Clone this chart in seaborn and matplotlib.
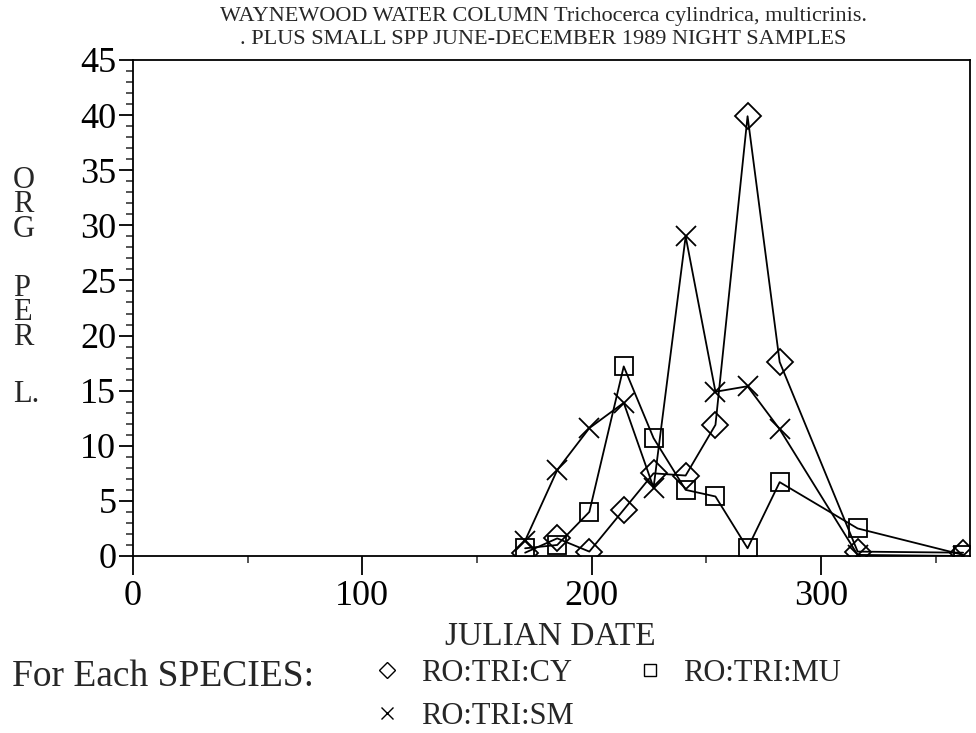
import matplotlib
matplotlib.use("Agg")
import matplotlib.pyplot as plt
from matplotlib.lines import Line2D
from matplotlib.ticker import MultipleLocator
import seaborn as sns
import pandas as pd

# ---- data ----
julian_date = [171, 185, 199, 214, 227, 241, 254, 268, 282, 316, 362]
ro_tri_cy = [0.3, 1.6, 0.4, 4.2, 7.5, 7.3, 11.9, 39.9, 17.6, 0.4, 0.3]
ro_tri_mu = [0.7, 1.0, 4.0, 17.2, 10.7, 6.0, 5.4, 0.7, 6.7, 2.5, 0.1]
ro_tri_sm = [1.4, 7.8, 11.6, 13.9, 6.2, 29.0, 14.9, 15.4, 11.5, 0.1, 0.0]
series_names = ["RO:TRI:CY", "RO:TRI:MU", "RO:TRI:SM"]
x_ticks = [0, 100, 200, 300]
y_ticks = [0, 5, 10, 15, 20, 25, 30, 35, 40, 45]
title_lines = ["WAYNEWOOD WATER COLUMN Trichocerca cylindrica, multicrinis.",
               ". PLUS SMALL SPP JUNE-DECEMBER 1989 NIGHT SAMPLES"]

sns.set_style("ticks")
plt.rcParams["font.family"] = ["Liberation Serif", "DejaVu Serif"]

fig = plt.figure(figsize=(9.76, 7.33), dpi=100)
ax = fig.add_axes([133 / 976, 1 - 556 / 733, (970 - 133) / 976, (556 - 60) / 733])

df = pd.DataFrame({"date": julian_date, "CY": ro_tri_cy, "MU": ro_tri_mu, "SM": ro_tri_sm})
styles = {
    "CY": dict(marker="D", ms=13.5),
    "MU": dict(marker="s", ms=13),
    "SM": dict(marker="x", ms=14),
}
for col, st in styles.items():
    sns.lineplot(data=df, x="date", y=col, ax=ax, color="black", lw=1.3,
                 marker=st["marker"], ms=st["ms"], mfc="none", mec="black",
                 mew=1.3, sort=False, estimator=None)

ax.set_xlim(0, 365)
ax.set_ylim(0, 45)
ax.set_xticks(x_ticks)
ax.xaxis.set_minor_locator(MultipleLocator(50))
ax.set_yticks(y_ticks)
ax.yaxis.set_minor_locator(MultipleLocator(1))
ax.tick_params(axis="both", which="major", direction="out", width=1.3, labelsize=26, colors="black")
ax.tick_params(axis="y", which="major", length=10, pad=2)
ax.tick_params(axis="x", which="major", length=14)
ax.tick_params(axis="both", which="minor", direction="out", width=1.1, length=5)
for s in ax.spines.values():
    s.set_linewidth(1.3)
    s.set_color("black")
ax.set_xlabel("")
ax.set_ylabel("")

fig.text(550 / 976, 1 - 637 / 733, "JULIAN DATE", ha="center", va="center", fontsize=24)

for i, line in enumerate(title_lines):
    fig.text(543 / 976, 1 - (17 + 23 * i) / 733, line, ha="center", va="center", fontsize=16)

# stacked vertical y-axis label, three groups
ylab_groups = [("O\nR\nG", 205), ("P\nE\nR", 313), ("L.", 394)]
for txt, yy in ylab_groups:
    fig.text(13 / 976, 1 - yy / 733, txt, ha="left", va="center", fontsize=22,
             linespacing=0.8)

fig.text(12 / 976, 1 - 677 / 733, "For Each SPECIES:", ha="left", va="center", fontsize=27)

handles = [
    Line2D([], [], ls="none", marker="D", ms=8, mfc="none", mec="black", mew=1.0),
    Line2D([], [], ls="none", marker="x", ms=8, mfc="none", mec="black", mew=1.0),
    Line2D([], [], ls="none", marker="s", ms=8, mfc="none", mec="black", mew=1.0),
]
labels = [series_names[0], series_names[2], series_names[1]]
fig.legend(handles, labels, ncol=2, loc="center left",
           bbox_to_anchor=(372 / 976, 1 - 695 / 733), frameon=False,
           fontsize=22, handlelength=1.0, handletextpad=0.6, columnspacing=2.0,
           labelspacing=0.45, borderaxespad=0, borderpad=0)

fig.savefig("out.png", dpi=100)
